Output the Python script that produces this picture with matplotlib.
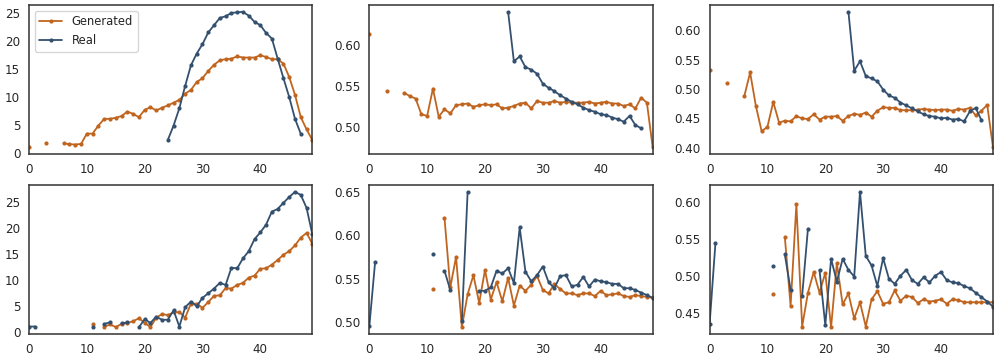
import numpy as np
import matplotlib
matplotlib.use('Agg')
import matplotlib.pyplot as plt
from matplotlib.ticker import MultipleLocator
import seaborn as sns

n = np.nan
steps = np.arange(50)

# top row
gen_a = [1.0, n, n, 1.8, n, n, 1.7, 1.55, 1.5, 1.6, 3.45, 3.45, 4.9, 6.1, 6.1, 6.3, 6.6, 7.4, 7.0, 6.4,
         7.7, 8.2, 7.6, 8.1, 8.5, 9.0, 9.5, 10.6, 11.3, 12.7, 13.4, 14.7, 15.8, 16.6, 16.8, 16.9, 17.3, 17.1, 17.1, 17.1,
         17.5, 17.2, 16.8, 16.8, 16.0, 13.6, 10.4, 6.4, 4.2, 2.3]
real_a = [n] * 24 + [2.3, 4.9, 8.0, 12.0, 15.7, 17.8, 19.5, 21.6, 22.9, 24.2, 24.5, 25.1, 25.2, 25.3, 24.6, 23.5,
                     22.9, 21.5, 20.5, 16.9, 13.4, 10.0, 6.1, 3.4, n, n]

gen_b = [0.613, n, n, 0.544, n, n, 0.542, 0.538, 0.535, 0.516, 0.514, 0.547, 0.513, 0.522, 0.517, 0.527, 0.528,
         0.529, 0.525, 0.527, 0.528, 0.527, 0.528, 0.523, 0.524, 0.526, 0.529, 0.530, 0.523, 0.532, 0.530, 0.530,
         0.532, 0.530, 0.531, 0.530, 0.530, 0.530, 0.531, 0.529, 0.530, 0.531, 0.529, 0.529, 0.526, 0.528, 0.523,
         0.536, 0.530, 0.476]
real_b = [n] * 24 + [0.640, 0.580, 0.586, 0.573, 0.570, 0.565, 0.553, 0.548, 0.544, 0.539, 0.535, 0.531, 0.528,
                     0.524, 0.521, 0.519, 0.516, 0.515, 0.512, 0.510, 0.507, 0.514, 0.503, 0.499, n, n]

gen_c = [0.532, n, n, 0.510, n, n, 0.488, 0.528, 0.471, 0.428, 0.436, 0.478, 0.443, 0.446, 0.445, 0.454, 0.450,
         0.449, 0.457, 0.448, 0.453, 0.453, 0.454, 0.446, 0.454, 0.458, 0.456, 0.460, 0.453, 0.463, 0.469, 0.468,
         0.468, 0.464, 0.464, 0.464, 0.465, 0.466, 0.465, 0.464, 0.465, 0.465, 0.463, 0.466, 0.465, 0.468, 0.455,
         0.463, 0.473, 0.401]
real_c = [n] * 24 + [0.631, 0.531, 0.547, 0.522, 0.518, 0.513, 0.499, 0.489, 0.485, 0.477, 0.472, 0.467, 0.462,
                     0.457, 0.454, 0.453, 0.450, 0.451, 0.448, 0.449, 0.445, 0.462, 0.468, 0.447, n, n]

# bottom row
gen_d = [n] * 11 + [1.5, n, 1.0, 1.5, 1.0, 1.6, 1.8, 2.1, 2.7, 1.8, 1.0, 2.8, 3.5, 3.3, 3.8, 3.9, 2.8, 5.5, 5.5,
                    4.7, 5.8, 7.0, 7.1, 8.5, 8.4, 9.1, 9.5, 10.5, 10.9, 12.2, 12.3, 13.0, 13.9, 14.9, 15.6, 16.7,
                    18.2, 19.1, 17.0]
real_d = [1.1, 1.1, n, n, n, n, n, n, n, n, n, 1.0, n, 1.6, 1.9, n, 1.7, 1.9, n, 0.95,
          2.5, 1.8, 3.0, 2.4, 2.4, 4.2, 1.1, 4.8, 5.9, 5.0, 6.6, 7.5, 8.4, 9.5, 9.1, 12.4, 12.3, 14.2, 15.6, 17.9,
          19.2, 20.7, 23.2, 23.7, 24.9, 26.0, 27.0, 26.4, 23.9, 18.8]

gen_e = [n] * 11 + [0.538, n, 0.620, 0.540, 0.575, 0.494, 0.532, 0.554, 0.522, 0.560, 0.526, 0.546, 0.524, 0.551,
                    0.519, 0.542, 0.536, 0.543, 0.553, 0.537, 0.533, 0.544, 0.538, 0.533, 0.533, 0.531, 0.533,
                    0.533, 0.530, 0.536, 0.531, 0.532, 0.533, 0.530, 0.529, 0.531, 0.530, 0.529, 0.528]
real_e = [0.495, 0.569, n, n, n, n, n, n, n, n, n, 0.578, n, 0.559, 0.537, n, 0.501, 0.650, n, 0.536,
          0.536, 0.540, 0.559, 0.556, 0.562, 0.545, 0.609, 0.558, 0.547, 0.554, 0.564, 0.546, 0.539, 0.553, 0.554,
          0.541, 0.543, 0.552, 0.541, 0.549, 0.547, 0.546, 0.544, 0.544, 0.539, 0.539, 0.537, 0.534, 0.531, 0.528]

gen_f = [n] * 11 + [0.475, n, 0.553, 0.459, 0.597, 0.431, 0.477, 0.505, 0.477, 0.504, 0.430, 0.517, 0.461, 0.476,
                    0.442, 0.464, 0.431, 0.468, 0.479, 0.462, 0.464, 0.480, 0.466, 0.473, 0.471, 0.463, 0.468,
                    0.465, 0.466, 0.468, 0.462, 0.468, 0.467, 0.464, 0.464, 0.464, 0.464, 0.464, 0.464]
real_f = [0.435, 0.544, n, n, n, n, n, n, n, n, n, 0.513, n, 0.529, 0.481, n, 0.473, 0.564, n, 0.508,
          0.433, 0.523, 0.492, 0.523, 0.508, 0.499, 0.614, 0.527, 0.514, 0.486, 0.524, 0.496, 0.489, 0.500, 0.508,
          0.494, 0.489, 0.498, 0.491, 0.500, 0.505, 0.494, 0.491, 0.490, 0.486, 0.483, 0.477, 0.471, 0.465, 0.458]

panels = [(gen_a, real_a), (gen_b, real_b), (gen_c, real_c),
          (gen_d, real_d), (gen_e, real_e), (gen_f, real_f)]
y_steps = [5, 0.05, 0.05, 5, 0.05, 0.05]

gen_color = '#c0651f'
real_color = '#34506f'

sns.set_style('white')
plt.rcParams['font.family'] = ['DejaVu Sans']

fig, axes = plt.subplots(2, 3, figsize=(10, 3.6), dpi=100)
for ax, (gen, real), ystep in zip(axes.flat, panels, y_steps):
    ax.plot(steps, np.array(gen, dtype=float), color=gen_color, marker='.', markersize=4,
            linewidth=1.3, label='Generated')
    ax.plot(steps, np.array(real, dtype=float), color=real_color, marker='.', markersize=4,
            linewidth=1.3, label='Real')
    ax.set_xlim(0, 49)
    ax.set_xticks([0, 10, 20, 30, 40])
    ax.yaxis.set_major_locator(MultipleLocator(ystep))
    ax.tick_params(labelsize=8.6, pad=2.8)
    for s in ax.spines.values():
        s.set_color('#333333')
        s.set_linewidth(1.1)

axes[0, 0].legend(loc='upper left', fontsize=8.3, frameon=True)
plt.subplots_adjust(left=0.029, right=0.993, top=0.986, bottom=0.072, wspace=0.201, hspace=0.208)
plt.savefig('out.png')
